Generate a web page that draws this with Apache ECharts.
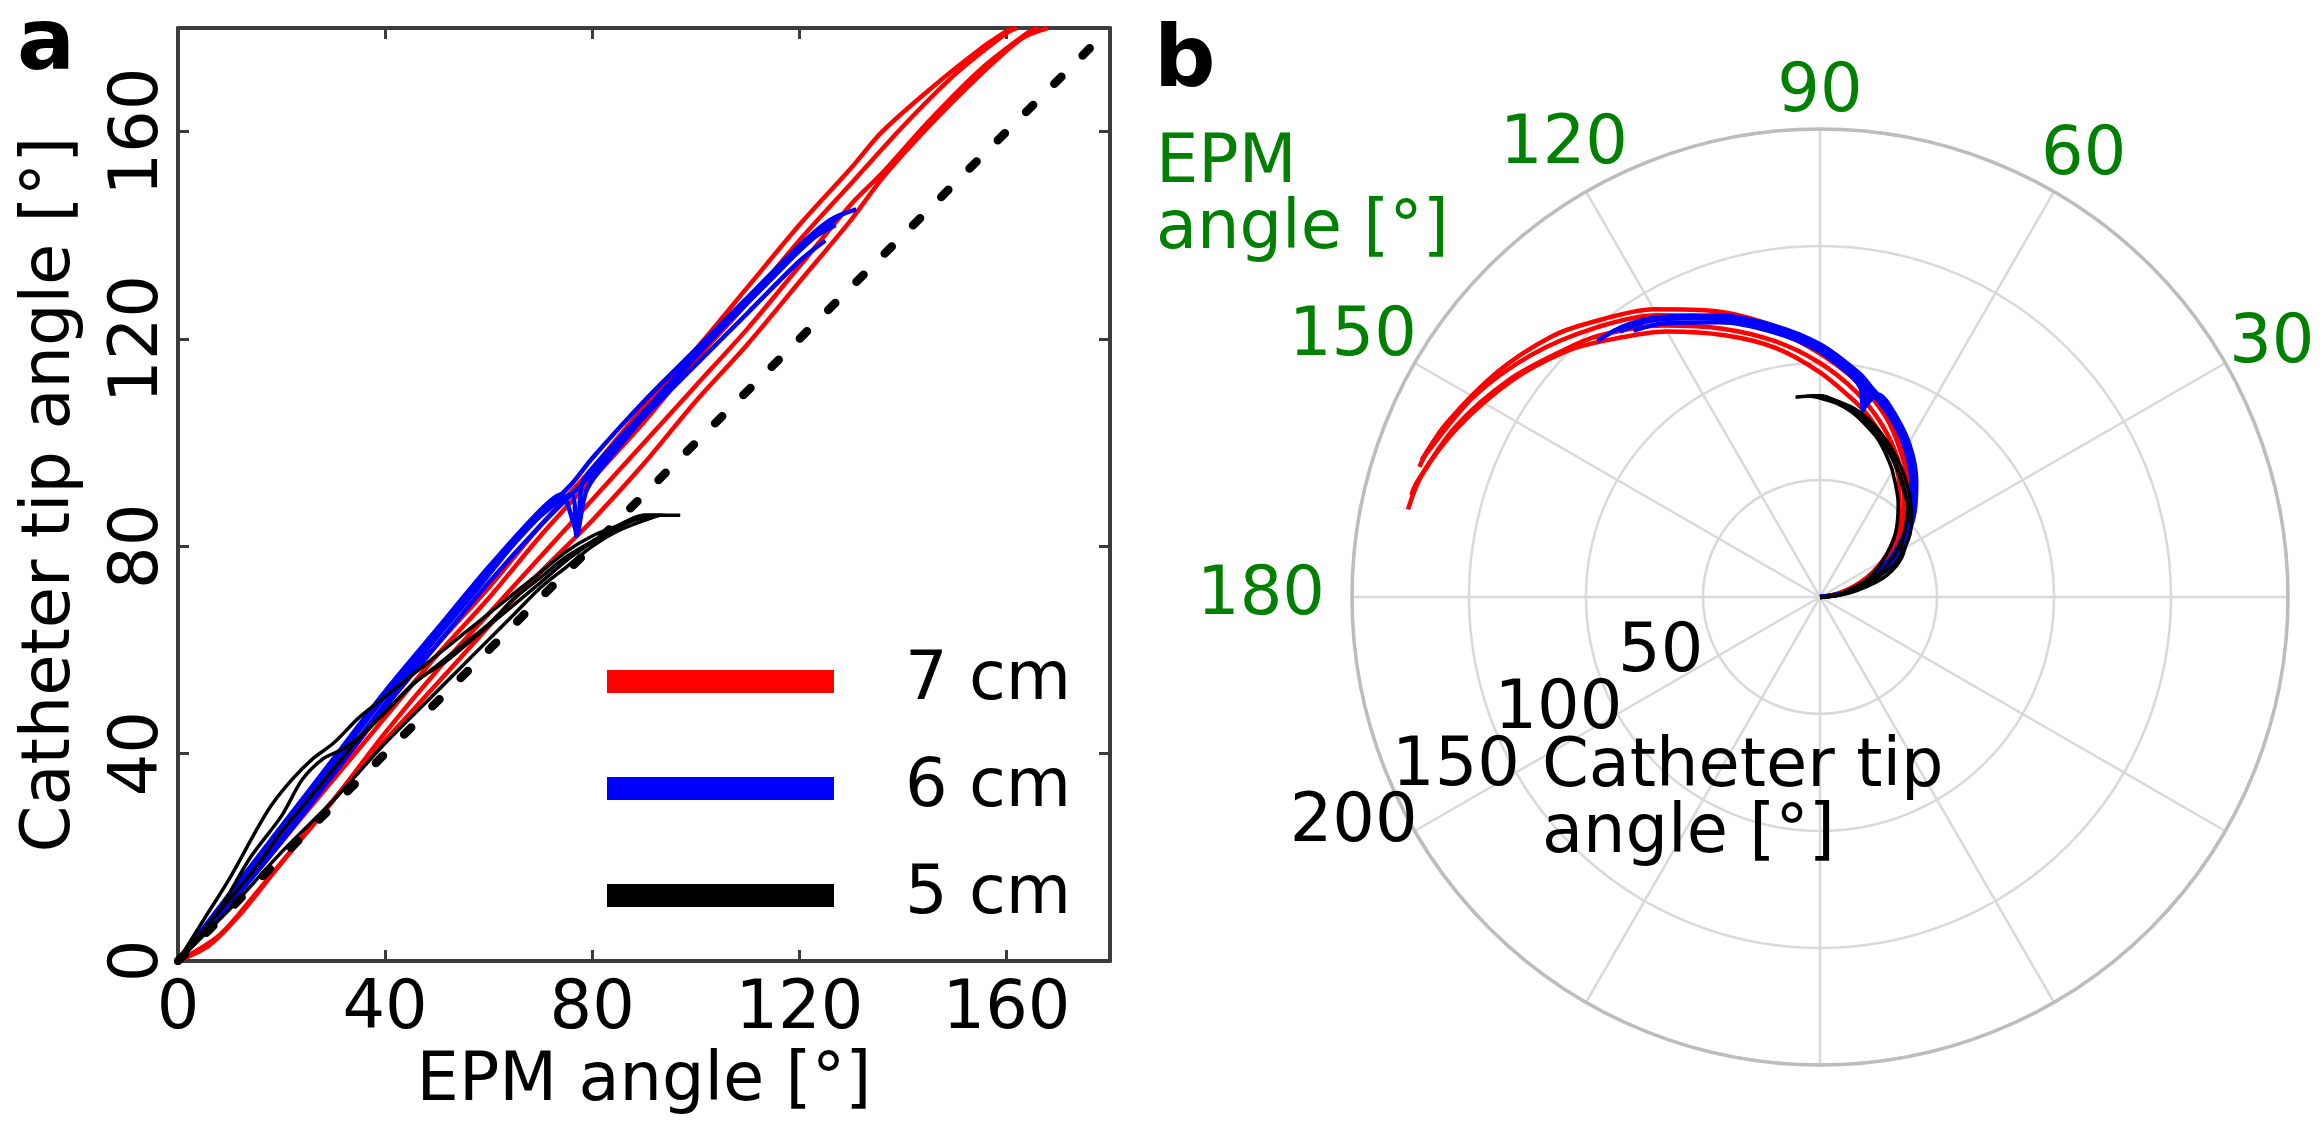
<!DOCTYPE html>
<html>
<head>
<meta charset="utf-8">
<script src="https://cdn.jsdelivr.net/npm/echarts/dist/echarts.min.js"></script>
<style>
  html, body { margin: 0; padding: 0; background: #fff; }
  #chart { width: 2324px; height: 1135px; }
</style>
</head>
<body>
<div id="chart"></div>
<script>
// ---------------- DATA ----------------
// Each trace: [EPM angle (deg), catheter tip angle (deg)]
const seriesNames = ['7 cm', '6 cm', '5 cm'];
const seriesColors = ['#ff0000', '#0000ff', '#000000'];

const traces7cm = [
  [[0,0],[10,12],[20,24],[30,36],[40,49],[50,61],[60,72],[70,84],[80,95],[90,107],[100,118],[110,130],[120,142],[130,153],[136,160],[145,168],[155,176],[161,180]],
  [[0,0],[10,11],[20,23],[30,35],[40,47],[50,59],[60,70],[70,82],[80,93],[90,104],[100,116],[110,127],[120,139],[130,150],[140,161],[150,171],[160,179],[162,180]],
  [[0,0],[6,3],[12,9],[20,19],[30,31],[40,44],[50,56],[60,67],[70,78],[80,89],[90,100],[100,111],[110,122],[120,134],[130,146],[136,152],[145,162],[155,172],[164,179],[166,180]],
  [[0,0],[8,5],[15,13],[25,25],[35,37],[45,48],[55,59],[65,70],[75,80],[80,85],[90,96],[100,108],[110,119],[120,131],[130,143],[136,151],[145,161],[155,171],[163,178],[168,180]]
];
const traces6cm = [
  [[0,0],[10,12],[20,25],[30,38],[40,51],[50,63],[60,75],[70,86],[76,92],[80,97],[90,108],[100,118],[110,128],[120,138],[126,143],[131,145]],
  [[0,0],[10,13],[20,26],[30,39],[40,52],[50,64],[60,76],[70,87],[74,90],[77,83],[78,92],[80,95],[90,106],[100,117],[110,127],[120,137],[128,144]],
  [[0,0],[10,11],[20,23],[30,36],[40,49],[50,61],[60,73],[70,84],[80,94],[90,105],[100,115],[110,125],[120,135],[125,139]],
  [[0,0],[8,9],[18,21],[28,34],[38,47],[48,60],[58,72],[68,84],[76,90],[77,82],[79,91],[85,99],[95,111],[105,122],[115,132],[122,139],[127,142]]
];
const traces5cm = [
  [[0,0],[5,8],[10,16],[15,25],[18,30],[22,35],[26,39],[30,42],[35,47],[40,51],[45,55],[50,59],[55,63],[60,67],[65,71],[70,75],[75,79],[80,82],[85,84],[90,86],[95,86],[97,86]],
  [[0,0],[5,6],[10,12],[15,18],[20,25],[25,31],[30,37],[35,43],[40,48],[45,53],[50,57],[55,61],[60,65],[65,70],[70,74],[75,78],[80,81],[85,84],[90,86],[94,86]],
  [[0,0],[5,5],[10,10],[20,21],[30,31],[40,42],[50,52],[60,62],[65,67],[70,72],[75,76],[80,80],[85,83],[90,85],[93,86]],
  [[0,0],[8,10],[14,20],[20,28],[24,35],[28,39],[32,41],[36,44],[40,48],[46,54],[52,58],[58,63],[64,68],[70,73],[76,78],[82,82],[88,85],[92,86]]
];
const identityLine = [[0,0],[180,180]];

// tick settings / labels
const cartTicks = { min: 0, max: 180, interval: 40 };
const radiusTicks = { min: 0, max: 200, interval: 50 };
const angleTicks = { min: 0, max: 360, interval: 30 };
const angleLabelsShown = [30, 60, 90, 120, 150, 180];
const radiusLabelsInner = [50, 100, 150];
const radiusLabelsOuter = [200];

const xTitle = 'EPM angle [°]';
const yTitle = 'Catheter tip angle [°]';
const polarAngleTitle = 'EPM\nangle [°]';
const polarRadiusTitle = 'Catheter tip\nangle [°]';

// ---------------- CHART ----------------
const FONT = 'DejaVu Sans';
const AX = '#3c3c3c';
const GREEN = '#008000';
const CENTER = [1820, 597];
const RADIUS = 468;
const chart = echarts.init(document.getElementById('chart'), null, { renderer: 'canvas' });

const allTraces = [traces7cm, traces6cm, traces5cm];
const lineWidths = [4.5, 4.5, 3.5];
const series = [];
allTraces.forEach((group, gi) => {
  group.forEach(tr => {
    series.push({
      type: 'line', name: seriesNames[gi], xAxisIndex: 0, yAxisIndex: 0,
      data: tr, showSymbol: false, symbol: 'none', smooth: 0.3,
      itemStyle: { color: seriesColors[gi] },
      lineStyle: { color: seriesColors[gi], width: lineWidths[gi] },
      emphasis: { disabled: true }, z: 2 + gi
    });
  });
});
series.push({
  type: 'line', name: 'identity', xAxisIndex: 0, yAxisIndex: 0,
  data: identityLine, showSymbol: false, symbol: 'none',
  lineStyle: { color: '#000', width: 8.5, type: [10, 30], cap: 'round' },
  emphasis: { disabled: true }, z: 6
});
allTraces.forEach((group, gi) => {
  group.forEach(tr => {
    series.push({
      type: 'line', name: seriesNames[gi], coordinateSystem: 'polar', polarIndex: 0,
      data: tr.map(p => [p[1], p[0]]), showSymbol: false, symbol: 'none', smooth: 0.3,
      itemStyle: { color: seriesColors[gi] },
      lineStyle: { color: seriesColors[gi], width: lineWidths[gi] },
      emphasis: { disabled: true }, z: 2 + gi
    });
  });
});

// per-label shift (dx, dy) expressed as rich padding [dy, -dx, -dy, dx]
function shift(dx, dy, color) {
  return { padding: [dy, -dx, -dy, dx], fontSize: 67, fontFamily: FONT, color: color };
}
const angleShift = { 30: [-3, 19], 60: [-17, 5], 90: [0, 6], 120: [46, -6], 150: [9, 12], 180: [-19, 0] };
const angleRich = {};
angleLabelsShown.forEach(v => { angleRich['a' + v] = shift(angleShift[v][0], angleShift[v][1], GREEN); });

function hiddenAngleAxis(idx) {
  return {
    polarIndex: idx, type: 'value', min: angleTicks.min, max: angleTicks.max,
    startAngle: 209, clockwise: false,
    axisLine: { show: false }, axisTick: { show: false }, axisLabel: { show: false }, splitLine: { show: false }
  };
}
function labelRadiusAxis(idx, shown, showMax, dy) {
  return {
    polarIndex: idx, type: 'value', min: radiusTicks.min, max: radiusTicks.max, interval: radiusTicks.interval,
    axisLine: { show: false }, axisTick: { show: false }, splitLine: { show: false },
    axisLabel: {
      show: true, margin: 0, align: 'center', verticalAlign: 'middle',
      showMinLabel: false, showMaxLabel: showMax, hideOverlap: false,
      padding: [dy, 57, -dy, -57],
      fontSize: 67, fontFamily: FONT, color: '#000',
      formatter: v => shown.indexOf(v) >= 0 ? String(v) : ''
    }
  };
}

const option = {
  animation: false,
  backgroundColor: '#fff',
  textStyle: { fontFamily: FONT },
  title: [
    { text: 'a', left: 17, top: 4, padding: 0, textStyle: { fontSize: 86, fontWeight: 'bold', fontFamily: FONT, color: '#000' } },
    { text: 'b', left: 1154, top: 21, padding: 0, textStyle: { fontSize: 86, fontWeight: 'bold', fontFamily: FONT, color: '#000' } },
    { text: polarAngleTitle, left: 1156, top: 132, padding: 0, textStyle: { fontSize: 67, fontWeight: 'normal', fontFamily: FONT, color: GREEN, lineHeight: 66 } },
    { text: polarRadiusTitle, left: 1542, top: 736, padding: 0, textStyle: { fontSize: 67, fontWeight: 'normal', fontFamily: FONT, color: '#000', lineHeight: 66 } }
  ],
  legend: {
    data: seriesNames, orient: 'vertical', left: 607, top: 648, padding: 0,
    itemWidth: 227, itemHeight: 23, itemGap: 40, icon: 'rect', selectedMode: false,
    textStyle: { fontSize: 67, fontFamily: FONT, color: '#000', padding: [0, 0, 0, 66] }
  },
  grid: { left: 178, top: 28, width: 932, height: 933 },
  xAxis: [
    {
      type: 'value', min: cartTicks.min, max: cartTicks.max, interval: cartTicks.interval, position: 'bottom',
      axisLine: { show: true, onZero: false, lineStyle: { color: AX, width: 4 } },
      axisTick: { show: true, inside: true, length: 11, lineStyle: { color: AX, width: 3 } },
      axisLabel: { fontSize: 67, color: '#000', fontFamily: FONT, margin: 16 },
      splitLine: { show: false },
      name: xTitle, nameLocation: 'middle', nameGap: 85,
      nameTextStyle: { fontSize: 67, color: '#000', fontFamily: FONT }
    },
    {
      type: 'value', min: cartTicks.min, max: cartTicks.max, interval: cartTicks.interval, position: 'top',
      axisLine: { show: true, onZero: false, lineStyle: { color: AX, width: 4 } },
      axisTick: { show: true, inside: true, length: 11, lineStyle: { color: AX, width: 3 } },
      axisLabel: { show: false }, splitLine: { show: false }
    }
  ],
  yAxis: [
    {
      type: 'value', min: cartTicks.min, max: cartTicks.max, interval: cartTicks.interval, position: 'left',
      axisLine: { show: true, onZero: false, lineStyle: { color: AX, width: 4 } },
      axisTick: { show: true, inside: true, length: 11, lineStyle: { color: AX, width: 3 } },
      axisLabel: { fontSize: 67, color: '#000', fontFamily: FONT, margin: 5, rotate: 90 },
      splitLine: { show: false },
      name: yTitle, nameLocation: 'middle', nameGap: 93, nameRotate: 90,
      nameTextStyle: { fontSize: 67, color: '#000', fontFamily: FONT }
    },
    {
      type: 'value', min: cartTicks.min, max: cartTicks.max, interval: cartTicks.interval, position: 'right',
      axisLine: { show: true, onZero: false, lineStyle: { color: AX, width: 4 } },
      axisTick: { show: true, inside: true, length: 11, lineStyle: { color: AX, width: 3 } },
      axisLabel: { show: false }, splitLine: { show: false }
    }
  ],
  polar: [
    { center: CENTER, radius: RADIUS },
    { center: CENTER, radius: RADIUS },
    { center: CENTER, radius: RADIUS }
  ],
  angleAxis: [
    {
      polarIndex: 0, type: 'value', min: angleTicks.min, max: angleTicks.max, interval: angleTicks.interval,
      startAngle: 0, clockwise: false,
      axisLine: { show: true, lineStyle: { color: '#bdbdbd', width: 3.5 } },
      axisTick: { show: false },
      splitLine: { show: true, lineStyle: { color: '#d9d9d9', width: 2.5 } },
      axisLabel: {
        show: true, margin: 8, fontSize: 67, fontFamily: FONT, color: GREEN,
        formatter: v => angleLabelsShown.indexOf(v) >= 0 ? '{a' + v + '|' + v + '}' : '',
        rich: angleRich
      }
    },
    hiddenAngleAxis(1),
    hiddenAngleAxis(2)
  ],
  radiusAxis: [
    {
      polarIndex: 0, type: 'value', min: radiusTicks.min, max: radiusTicks.max, interval: radiusTicks.interval,
      axisLine: { show: false }, axisTick: { show: false }, axisLabel: { show: false },
      splitLine: { show: true, lineStyle: { color: ['#d9d9d9', '#d9d9d9', '#d9d9d9', '#d9d9d9', '#bdbdbd'], width: 2.5 } }
    },
    labelRadiusAxis(1, radiusLabelsInner, false, -21),
    labelRadiusAxis(2, radiusLabelsOuter, true, -16)
  ],
  series: series
};
chart.setOption(option);
</script>
</body>
</html>
